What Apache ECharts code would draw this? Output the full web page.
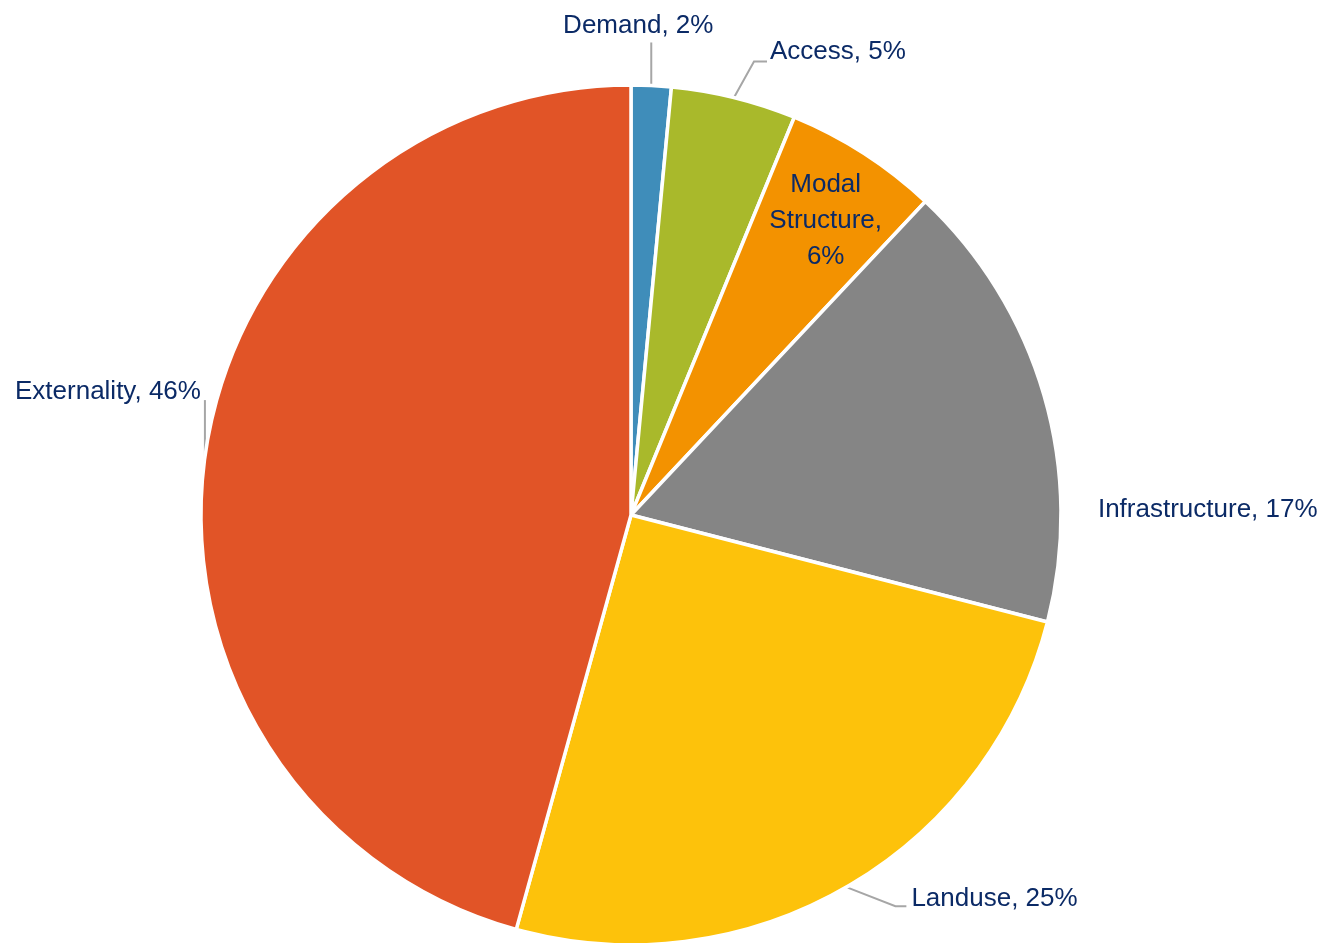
<!DOCTYPE html>
<html>
<head>
<meta charset="utf-8">
<script src="https://cdn.jsdelivr.net/npm/echarts@6/dist/echarts.min.js"></script>
<style>
  html, body { margin: 0; padding: 0; background: #fff; }
  #chart { width: 1324px; height: 943px; }
</style>
</head>
<body>
<div id="chart"></div>
<script>
var categories = ['Demand', 'Access', 'Modal Structure', 'Infrastructure', 'Landuse', 'Externality'];
var shares = [1.5, 4.7, 5.8, 17.0, 25.3, 45.7];
var colors = ['#3f8dba', '#a9b92b', '#f39200', '#858585', '#fdc20b', '#e15427'];
// label placement relative to the point on the rim at each slice's mid angle
var labelShift = [[-13, -60], [36, -46], [-38, 67], [54, 115], [65, 12], [-4, -65]];
var labelAlign = ['center', 'left', 'center', 'left', 'left', 'right'];
var lineElbow = [[0, -43], [20, -36], null, null, [49, 19], [0, -57]];
var lineEnd = [[0, -43], [33, -36], null, null, [60, 19], [0, -57]];

var cx = 631, cy = 515, R = 430;

var chartDom = document.getElementById('chart');
var myChart = echarts.init(chartDom);

var total = shares.reduce(function (a, b) { return a + b; }, 0);
var anchors = [];
var acc = 0;
shares.forEach(function (v) {
  var mid = (acc + v / 2) / total * Math.PI * 2;
  anchors.push([cx + R * Math.sin(mid), cy - R * Math.cos(mid)]);
  acc += v;
});

var data = categories.map(function (name, i) {
  return {
    name: name,
    value: shares[i],
    itemStyle: { color: colors[i] },
    labelLine: { show: lineElbow[i] !== null }
  };
});

var option = {
  animation: false,
  series: [{
    type: 'pie',
    center: [cx, cy],
    radius: R,
    startAngle: 90,
    clockwise: true,
    avoidLabelOverlap: false,
    data: data,
    itemStyle: {
      borderColor: '#fff',
      borderWidth: 3.5
    },
    label: {
      position: 'outside',
      color: '#0b2a66',
      fontFamily: '"Liberation Sans", Arial, sans-serif',
      fontSize: 26,
      lineHeight: 36,
      formatter: function (p) {
        var pct = Math.round(p.percent) + '%';
        if (p.dataIndex === 2) {
          return p.name.replace(' ', '\n') + ',\n' + pct;
        }
        return p.name + ', ' + pct;
      }
    },
    labelLine: {
      lineStyle: { color: '#a6a6a6', width: 2 }
    },
    labelLayout: function (params) {
      var i = params.dataIndex;
      var a = anchors[i];
      var out = {
        x: a[0] + labelShift[i][0],
        y: a[1] + labelShift[i][1],
        align: labelAlign[i],
        verticalAlign: 'middle'
      };
      if (lineElbow[i]) {
        out.labelLinePoints = [
          [a[0], a[1]],
          [a[0] + lineElbow[i][0], a[1] + lineElbow[i][1]],
          [a[0] + lineEnd[i][0], a[1] + lineEnd[i][1]]
        ];
      }
      return out;
    }
  }]
};

option && myChart.setOption(option);

window.addEventListener('resize', function () { myChart.resize(); });
</script>
</body>
</html>
